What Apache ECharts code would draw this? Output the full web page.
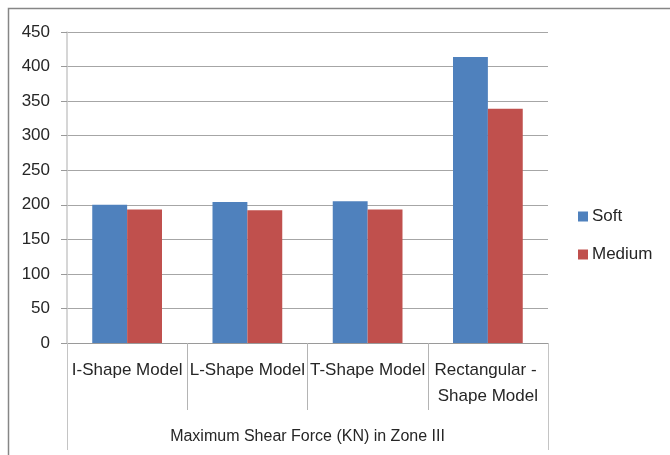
<!DOCTYPE html>
<html>
<head>
<meta charset="utf-8">
<script src="https://cdn.jsdelivr.net/npm/echarts@6/dist/echarts.min.js"></script>
<style>
  html, body { margin: 0; padding: 0; background: #fff; }
  #chart { width: 670px; height: 455px; }
</style>
</head>
<body>
<div id="chart"></div>
<script>
// Shear force per model type, zone III
var categories = ['I-Shape Model', 'L-Shape Model', 'T-Shape Model', 'Rectangular - Shape Model'];
var groupLabel = ['Maximum Shear Force (KN) in Zone III'];
var softValues = [200, 204, 205, 414];
var mediumValues = [193, 192, 193, 339];
var yTicks = { min: 0, max: 450, step: 50 };

var FONT = '"Liberation Sans Narrow", "Liberation Sans", Arial, sans-serif';
var TEXT = '#262626';

var chart = echarts.init(document.getElementById('chart'));
chart.setOption({
  animation: false,
  textStyle: { fontFamily: FONT },
  graphic: [{
    type: 'rect',
    shape: { x: 8.5, y: 8.5, width: 700, height: 500 },
    style: { fill: 'none', stroke: '#868686', lineWidth: 1.5 },
    silent: true
  }],
  grid: { left: 67, right: 122, top: 32, bottom: 112, containLabel: false },
  legend: {
    orient: 'vertical',
    left: 573,
    top: 203,
    itemWidth: 10,
    itemHeight: 10,
    itemGap: 21,
    icon: 'rect',
    textStyle: { fontFamily: FONT, fontSize: 17, color: TEXT, padding: [0, 0, 0, -1] },
    data: ['Soft', 'Medium']
  },
  xAxis: [{
    type: 'category',
    data: categories,
    position: 'bottom',
    axisLine: { show: true, lineStyle: { color: '#9a9a9a', width: 1 } },
    axisTick: { show: true, alignWithLabel: false, length: 67, lineStyle: { color: '#b4b4b4' } },
    axisLabel: {
      interval: 0, margin: 14, fontSize: 17, lineHeight: 26, color: TEXT,
      width: 118, overflow: 'break', fontFamily: FONT
    },
    splitLine: { show: false }
  }, {
    type: 'category',
    data: groupLabel,
    position: 'bottom',
    axisLine: { show: false },
    axisTick: { show: true, alignWithLabel: false, length: 107, lineStyle: { color: '#c4c4c4' } },
    axisLabel: { interval: 0, margin: 81, fontSize: 16, lineHeight: 26, color: TEXT, fontFamily: FONT },
    splitLine: { show: false }
  }],
  yAxis: {
    type: 'value',
    min: yTicks.min,
    max: yTicks.max,
    interval: yTicks.step,
    axisLine: { show: true, lineStyle: { color: '#c8c8c8', width: 1.5 } },
    axisTick: { show: true, inside: false, length: 6, lineStyle: { color: '#9a9a9a' } },
    axisLabel: { fontSize: 17, color: TEXT, margin: 17, fontFamily: FONT },
    splitLine: { show: true, lineStyle: { color: '#a6a6a6', width: 1 } }
  },
  series: [{
    name: 'Soft',
    type: 'bar',
    data: softValues,
    barGap: '0%',
    barCategoryGap: '42%',
    itemStyle: { color: '#4F81BD' }
  }, {
    name: 'Medium',
    type: 'bar',
    data: mediumValues,
    itemStyle: { color: '#C0504D' }
  }]
});
</script>
</body>
</html>
